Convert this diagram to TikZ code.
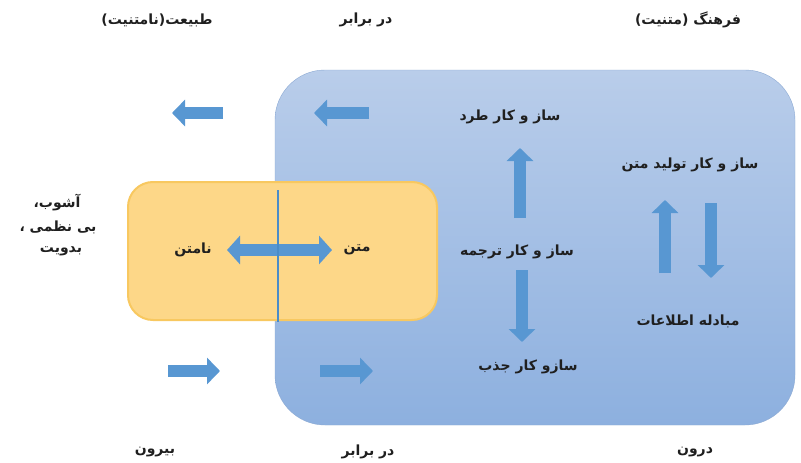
\documentclass[tikz,border=0pt]{standalone}
\usepackage{fontspec}
\usetikzlibrary{arrows.meta}
\TeXXeTstate=1
\newfontfamily\arabicfont[Script=Arabic]{DejaVu Sans}
\definecolor{arrblue}{HTML}{5897D2}
\definecolor{bluetop}{HTML}{B9CDEA}
\definecolor{bluebot}{HTML}{8DB0DF}
\definecolor{blueedge}{HTML}{8BA9D3}
\definecolor{orfill}{HTML}{FDD788}
\definecolor{oredge}{HTML}{F8C860}
\definecolor{vline}{HTML}{4A8CC8}
\begin{document}
\begin{tikzpicture}[x=1pt,y=-1pt,
  lbl/.style={font=\arabicfont\bfseries\fontsize{14}{16}\selectfont, inner sep=0pt, text=black!88},
  blk/.style={line width=12pt, arrblue, -{Triangle[width=26pt,length=13pt]}},
  dblk/.style={line width=12pt, arrblue, {Triangle[width=28pt,length=13pt]}-{Triangle[width=28pt,length=13pt]}},
]
\useasboundingbox (0,0) rectangle (801,463);
\fill[white] (0,0) rectangle (801,463);
% big blue region
\draw[rounded corners=50pt, top color=bluetop, bottom color=bluebot, draw=blueedge] (275,70) rectangle (795,425);
% orange box
\draw[rounded corners=25pt, fill=orfill, draw=oredge, line width=2pt] (128,182) rectangle (437,320);
% top labels
\node[lbl] (t1) at (157,20) {\beginR طبیعت(نامتنیت)\endR};
\node[lbl] (t2) at (366,20) {\beginR در برابر\endR};
\node[lbl] (t3) at (688,20) {\beginR فرهنگ (متنیت)\endR};
% bottom labels
\node[lbl] (b1) at (155,452) {\beginR بیرون\endR};
\node[lbl] (b2) at (368,452) {\beginR در برابر\endR};
\node[lbl] (b3) at (695,452) {\beginR درون\endR};
% left labels
\node[lbl] (l1) at (57,203) {\beginR آشوب،\endR};
\node[lbl] (l2) at (58,227) {\beginR بی نظمی ،\endR};
\node[lbl] (l3) at (61,251) {\beginR بدویت\endR};
% inner labels
\node[lbl] (nt) at (193,250) {\beginR نامتن\endR};
\node[lbl] (mt) at (357,250) {\beginR متن\endR};
\node[lbl] (tard) at (510,117) {\beginR ساز و کار طرد\endR};
\node[lbl] (tarj) at (517,252) {\beginR ساز و کار ترجمه\endR};
\node[lbl] (jazb) at (528,367) {\beginR سازو کار جذب\endR};
\node[lbl] (tol) at (690,165) {\beginR ساز و کار تولید متن\endR};
\node[lbl] (mob) at (688,321) {\beginR مبادله اطلاعات\endR};
% coordinates for block arrows
\coordinate (a1s) at (223,113); \coordinate (a1e) at (172,113);
\coordinate (a2s) at (369,113); \coordinate (a2e) at (314,113);
\coordinate (a3s) at (168,371); \coordinate (a3e) at (220,371);
\coordinate (a4s) at (320,371); \coordinate (a4e) at (373,371);
\coordinate (u1s) at (520,218); \coordinate (u1e) at (520,148);
\coordinate (d1s) at (522,270); \coordinate (d1e) at (522,342);
\coordinate (u2s) at (665,273); \coordinate (u2e) at (665,200);
\coordinate (d2s) at (711,203); \coordinate (d2e) at (711,278);
\draw[blk] (a1s) -- (a1e);
\draw[blk] (a2s) -- (a2e);
\draw[blk] (a3s) -- (a3e);
\draw[blk] (a4s) -- (a4e);
\draw[blk] (u1s) -- (u1e);
\draw[blk] (d1s) -- (d1e);
\draw[blk] (u2s) -- (u2e);
\draw[blk] (d2s) -- (d2e);
% double arrow between text and non-text
\draw[dblk] ([xshift=34pt]nt.center) -- ([xshift=-25pt]mt.center);
% dividing line
\coordinate (vtop) at (278,190); \coordinate (vbot) at (278,322);
\draw[vline, line width=1.6pt] (vtop) -- (vbot);
\end{tikzpicture}
\end{document}
